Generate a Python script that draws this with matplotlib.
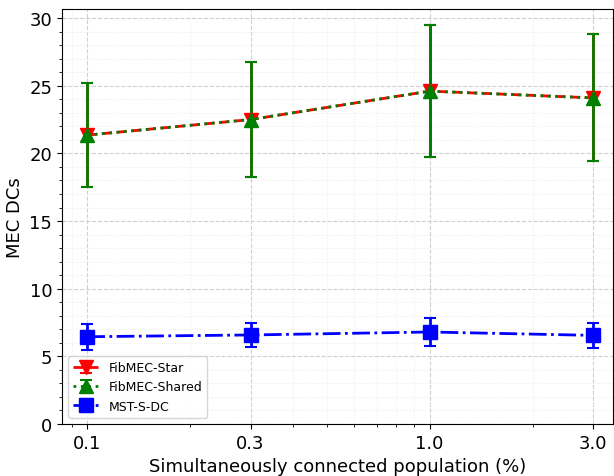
import matplotlib
matplotlib.use('Agg')
import matplotlib.pyplot as plt
from matplotlib.ticker import MultipleLocator

# 数据
population = [0.1, 0.3, 1.0, 3.0]
star_mean = [21.35, 22.5, 24.6, 24.1]
star_err = [3.85, 4.25, 4.9, 4.7]
shared_mean = [21.35, 22.5, 24.6, 24.1]
shared_err = [3.85, 4.25, 4.9, 4.7]
mst_mean = [6.45, 6.58, 6.8, 6.55]
mst_err = [0.95, 0.9, 1.03, 0.9]
xtick_labels = ['0.1', '0.3', '1.0', '3.0']

fig = plt.figure(figsize=(6.14, 4.77), dpi=100)
ax = fig.add_axes([62 / 614, 52 / 477, 551 / 614, 415 / 477])

ax.errorbar(population, star_mean, yerr=star_err, color='red', marker='v',
            linestyle='--', linewidth=2, markersize=10, capsize=4,
            elinewidth=2, capthick=1.5, label='FibMEC-Star')
ax.errorbar(population, shared_mean, yerr=shared_err, color='green', marker='^',
            linestyle=':', linewidth=2, markersize=10, capsize=4,
            elinewidth=2, capthick=1.5, label='FibMEC-Shared')
ax.errorbar(population, mst_mean, yerr=mst_err, color='blue', marker='s',
            linestyle='-.', linewidth=2, markersize=10, capsize=4,
            elinewidth=2, capthick=1.5, label='MST-S-DC')

ax.set_xscale('log')
ax.set_xticks(population)
ax.set_xticklabels(xtick_labels)
ax.set_xlim(0.0844, 3.43)
ax.set_ylim(0, 30.67)
ax.yaxis.set_major_locator(MultipleLocator(5))
ax.yaxis.set_minor_locator(MultipleLocator(1))

ax.grid(True, which='major', linestyle='--', color='#d0d0d0', linewidth=0.8)
ax.grid(True, which='minor', linestyle=':', color='#e8e8e8', linewidth=0.6)

ax.tick_params(axis='both', which='major', labelsize=13)
ax.set_xlabel('Simultaneously connected population (%)', fontsize=13)
ax.set_ylabel('MEC DCs', fontsize=13)
ax.legend(loc='lower left', fontsize=9)

fig.savefig('out.png', dpi=100)
